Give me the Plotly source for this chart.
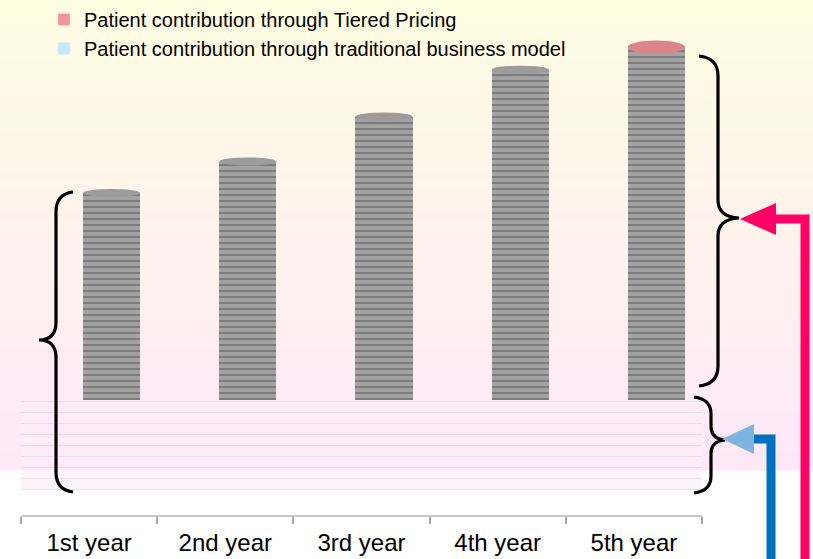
import plotly.graph_objects as go

# ---- data ----
years = ["1st year", "2nd year", "3rd year", "4th year", "5th year"]
traditional = [100, 100, 100, 100, 100]
tiered = [230, 265, 315, 367, 392]
legend_names = ["Patient contribution through Tiered Pricing",
                "Patient contribution through traditional business model"]

W, H = 813, 559
ML, MR, MT, MB = 21, 111, 0, 44
PW, PH = W - ML - MR, H - MT - MB


def px(x, y):
    return f"{(x - ML) / PW:.5f},{(H - MB - y) / PH:.5f}"


fig = go.Figure()

# traditional portion as a continuous band
fig.add_trace(go.Bar(
    x=years, y=traditional, width=1.0, offset=-0.5,
    marker=dict(color="rgba(253,236,248,0.6)", line=dict(width=0),
                pattern=dict(shape="-", fgcolor="#cfcfcf", size=11, solidity=0.1)),
    showlegend=False, hoverinfo="skip"))

# tiered pricing portion (grey striped cylinders)
fig.add_trace(go.Bar(
    x=years, y=tiered, base=traditional, width=0.42, offset=-0.045,
    marker=dict(color="#a3a3a3", line=dict(width=0),
                pattern=dict(shape="-", fgcolor="#565656", size=6, solidity=0.35)),
    showlegend=False, hoverinfo="skip"))

# legend entries
fig.add_trace(go.Bar(x=[None], y=[None], name=legend_names[0],
                     marker_color="#f4959c", legendgroup="a"))
fig.add_trace(go.Bar(x=[None], y=[None], name=legend_names[1],
                     marker_color="#c9e7fb", legendgroup="b"))

shapes = []
# background gradient (styling)
top = (255, 253, 226)
bot = (253, 232, 248)
n = 47
for i in range(n):
    t = i / (n - 1)
    c = tuple(round(top[k] + (bot[k] - top[k]) * t) for k in range(3))
    y0 = 470 * i / n
    y1 = 470 * (i + 1) / n + 0.6
    shapes.append(dict(type="rect", xref="paper", yref="paper",
                       x0=(0 - ML) / PW, x1=(W - ML) / PW,
                       y0=(H - MB - y1) / PH, y1=(H - MB - y0) / PH,
                       fillcolor=f"rgb{c}", line_width=0, layer="below"))

# cylinder caps computed from data
for i, (b, t) in enumerate(zip(traditional, tiered)):
    top_v = b + t
    last = i == len(years) - 1
    col = "#d9858a" if last else "#9c9c9c"
    hh = 7.5 if last else 4.5
    shapes.append(dict(type="circle", xref="x", yref="y",
                       x0=i - 0.045, x1=i - 0.045 + 0.42,
                       y0=top_v - hh, y1=top_v + hh,
                       fillcolor=col, line_width=0, layer="above"))

# braces
brace = dict(type="path", xref="paper", yref="paper",
             line=dict(color="black", width=3.2), fillcolor="rgba(0,0,0,0)")
left = (f"M{px(73,192)} Q{px(56,194)} {px(56,212)} L{px(56,322)} "
        f"Q{px(56,340)} {px(39,340)} Q{px(56,340)} {px(56,358)} "
        f"L{px(56,472)} Q{px(56,490)} {px(73,492)}")
shapes.append(dict(brace, path=left))
ru = (f"M{px(699,56)} Q{px(718,58)} {px(718,76)} L{px(718,200)} "
      f"Q{px(718,217)} {px(739,218)} Q{px(718,219)} {px(718,236)} "
      f"L{px(718,366)} Q{px(718,384)} {px(699,386)}")
shapes.append(dict(brace, path=ru))
rl = (f"M{px(694,397)} Q{px(711,399)} {px(711,414)} L{px(711,426)} "
      f"Q{px(711,439)} {px(725,440)} Q{px(711,441)} {px(711,454)} "
      f"L{px(711,476)} Q{px(711,491)} {px(694,493)}")
shapes.append(dict(brace, path=rl))

# arrows
shapes.append(dict(type="path", xref="paper", yref="paper",
                   path=f"M{px(805,562)} L{px(805,219)} L{px(772,219)}",
                   line=dict(color="#ff0066", width=9), fillcolor="rgba(0,0,0,0)"))
shapes.append(dict(type="path", xref="paper", yref="paper",
                   path=f"M{px(740,219)} L{px(776,203)} L{px(776,235)} Z",
                   line=dict(width=0), fillcolor="#ff0066"))
shapes.append(dict(type="path", xref="paper", yref="paper",
                   path=f"M{px(771,562)} L{px(771,439)} L{px(752,439)}",
                   line=dict(color="#0070c0", width=9), fillcolor="rgba(0,0,0,0)"))
shapes.append(dict(type="path", xref="paper", yref="paper",
                   path=f"M{px(722,439)} L{px(754,424)} L{px(754,454)} Z",
                   line=dict(width=0), fillcolor="#7db5df"))

ppu = 0.9  # pixels per unit
fig.update_layout(
    width=W, height=H,
    margin=dict(l=ML, r=MR, t=MT, b=MB, pad=0, autoexpand=False),
    paper_bgcolor="white", plot_bgcolor="rgba(0,0,0,0)",
    barmode="overlay", bargap=0,
    font=dict(family="Liberation Sans, Arial, sans-serif", color="black"),
    shapes=shapes,
    legend=dict(x=44 / W, y=1.018, xref="container", yref="container",
                xanchor="left", yanchor="top", bgcolor="rgba(0,0,0,0)",
                font=dict(size=20), tracegroupgap=0, itemwidth=30),
    xaxis=dict(type="category", range=[-0.5, 4.5], showgrid=False,
               showline=True, linecolor="#c8c8c8", linewidth=2,
               ticks="outside", tickson="boundaries", ticklen=7,
               tickcolor="#a8a8a8", tickwidth=1.5, tickangle=0,
               tickfont=dict(size=24), ticklabelstandoff=5),
    yaxis=dict(visible=False, range=[-25 / ppu, 515 / ppu - 25 / ppu],
               showgrid=False, zeroline=False),
)

fig.write_html("out.html")
